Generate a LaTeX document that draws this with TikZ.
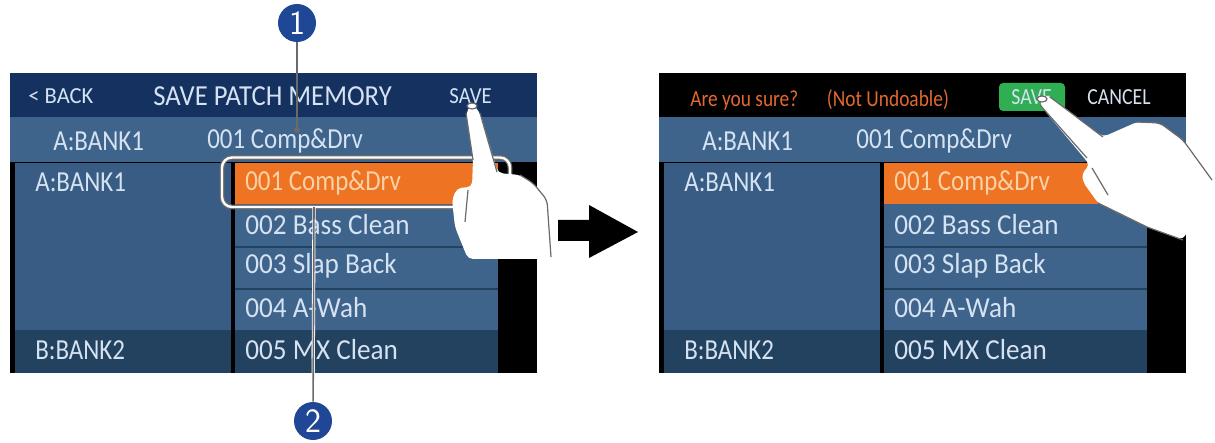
\documentclass[tikz,border=0pt]{standalone}
\usepackage{fontspec}
\setmainfont{Carlito}
\definecolor{headblue}{HTML}{14315F}
\definecolor{rowblue}{HTML}{3F648C}
\definecolor{sideblue}{HTML}{385C84}
\definecolor{lowblue}{HTML}{234260}
\definecolor{padorange}{HTML}{EE7424}
\definecolor{padgreen}{HTML}{2FAE54}
\definecolor{markblue}{HTML}{1F4796}
\definecolor{padtext}{HTML}{D5E2F2}
\definecolor{warmtext}{HTML}{FBD2A8}
\definecolor{asktext}{HTML}{E2692E}
\definecolor{leadgray}{HTML}{6A6A6A}
\begin{document}
\begin{tikzpicture}[x=0.5pt,y=-0.5pt,
  lbl/.style={text=padtext,anchor=west,inner sep=0pt,xscale=0.86,font=\fontsize{14.5}{15}\selectfont},
  widelbl/.style={lbl,xscale=1.09},
  smalllbl/.style={lbl,font=\fontsize{11.5}{12}\selectfont},
  callout/.style={circle,fill=markblue,text=white,minimum size=19pt,inner sep=0pt,font=\fontsize{17}{17}\selectfont\sffamily},
  leadwhite/.style={draw=white,line width=1.6pt},
  leadgrey/.style={draw=leadgray,line width=0.8pt},
  hand/.style={fill=white,rounded corners=2.5pt},
  crease/.style={draw=leadgray,line width=0.6pt}]
\useasboundingbox (0,0) rectangle (1215,443);
\fill [white] (0,0) rectangle (1215,443);
\foreach \sx in {0,649} {
  \fill [black] (\sx+10,73) rectangle (\sx+537,373);
  \fill [rowblue] (\sx+10,117) rectangle (\sx+537,162);
  \fill [sideblue] (\sx+15,163) rectangle (\sx+231,330);
  \fill [lowblue] (\sx+15,330) rectangle (\sx+231,373);
  \fill [rowblue] (\sx+235,204) rectangle (\sx+498,330);
  \fill [lowblue] (\sx+235,330) rectangle (\sx+498,373);
  \fill [padorange] (\sx+235,163) rectangle (\sx+498,204);
  \draw [lowblue,line width=0.6pt] (\sx+235,247) -- (\sx+498,247);
  \draw [lowblue,line width=0.6pt] (\sx+235,289) -- (\sx+498,289);
  \node [lbl] (bank\sx) at (\sx+53,141) {A:BANK1};
  \node [lbl] (patch\sx) at (\sx+207,141) {001 Comp\&Drv};
  \node [lbl] (sidea\sx) at (\sx+35,182) {A:BANK1};
  \node [lbl] (sideb\sx) at (\sx+35,350) {B:BANK2};
  \node [lbl,text=warmtext] (itema\sx) at (\sx+245,183) {001 Comp\&Drv};
  \node [widelbl] (itemb\sx) at (\sx+245,225) {002 Bass Clean};
  \node [widelbl] (itemc\sx) at (\sx+245,266) {003 Slap Back};
  \node [widelbl] (itemd\sx) at (\sx+245,308) {004 A-Wah};
  \node [widelbl] (iteme\sx) at (\sx+245,350) {005 MX Clean};
}
\fill [headblue] (10,73) rectangle (537,117);
\node [smalllbl,xscale=1.14] (back) at (28,96) {< BACK};
\node [lbl,xscale=1.07] (title) at (153,96) {SAVE PATCH MEMORY};
\node [smalllbl,xscale=1.05] (save) at (449,96) {SAVE};
\node [smalllbl,text=asktext,xscale=0.98] (ask) at (690,100) {Are you sure?\hspace{17pt}(Not Undoable)};
\fill [padgreen,rounded corners=2pt] (999,83) rectangle (1065,111);
\node [smalllbl,text=padtext] (savego) at (1011,97) {SAVE};
\node [smalllbl] (cancel) at (1087,97) {CANCEL};

\draw [leadgray,line width=2.4pt,rounded corners=5pt] (222,157.5) rectangle (510,207);
\draw [white,line width=1.2pt,rounded corners=5pt] (222,157.5) rectangle (510,207);

\coordinate (onetip) at (297,130);
\coordinate (twotip) at (314,207);
\node [callout] (one) at (297,23) {1};
\node [callout] (two) at (313,421) {2};
\draw [leadwhite] (two) -- (twotip);
\draw [leadgrey] (one) -- (onetip);
\draw [leadgrey] (two) -- (twotip);
\fill [leadgray] (onetip) circle (3);

\fill [hand] (472,103) -- (480,113) -- (498,173) -- (520,175) -- (533,183) -- (547,200)
  -- (552,259) -- (468,259) -- (455,227) -- (452,200) -- (457,188) -- (472,187)
  -- (473,160) -- (466,113) -- cycle;
\draw [crease] (480,113) -- (497,172);
\draw [crease] (466,113) -- (473,160);
\draw [crease] (468,190) -- (465,222);
\draw [crease,rounded corners=2.5pt] (520,175) -- (533,183) -- (547,200) -- (551,257);
\draw [crease,fill=white] (472,106) ellipse (5 and 3);

\fill [hand] (1042,95) -- (1050,97) -- (1103,137) -- (1137,122) -- (1160,123) -- (1183,140)
  -- (1212,180) -- (1183,240) -- (1147,227) -- (1098,203) -- (1083,182) -- (1082,173)
  -- (1090,165) -- (1040,105) -- cycle;
\draw [crease] (1050,97) -- (1103,137);
\draw [crease] (1040,105) -- (1087,158);
\draw [crease,rounded corners=2.5pt] (1137,122) -- (1160,123) -- (1183,140) -- (1212,180);
\draw [crease] (1092,168) -- (1108,195);
\draw [crease] (1098,203) -- (1147,227) -- (1183,240);
\draw [crease,fill=white] (1042,99) ellipse (5 and 3);

\fill [black] (558,220) -- (589,220) -- (589,205) -- (638,232) -- (589,258) -- (589,241) -- (558,241) -- cycle;
\end{tikzpicture}
\end{document}
